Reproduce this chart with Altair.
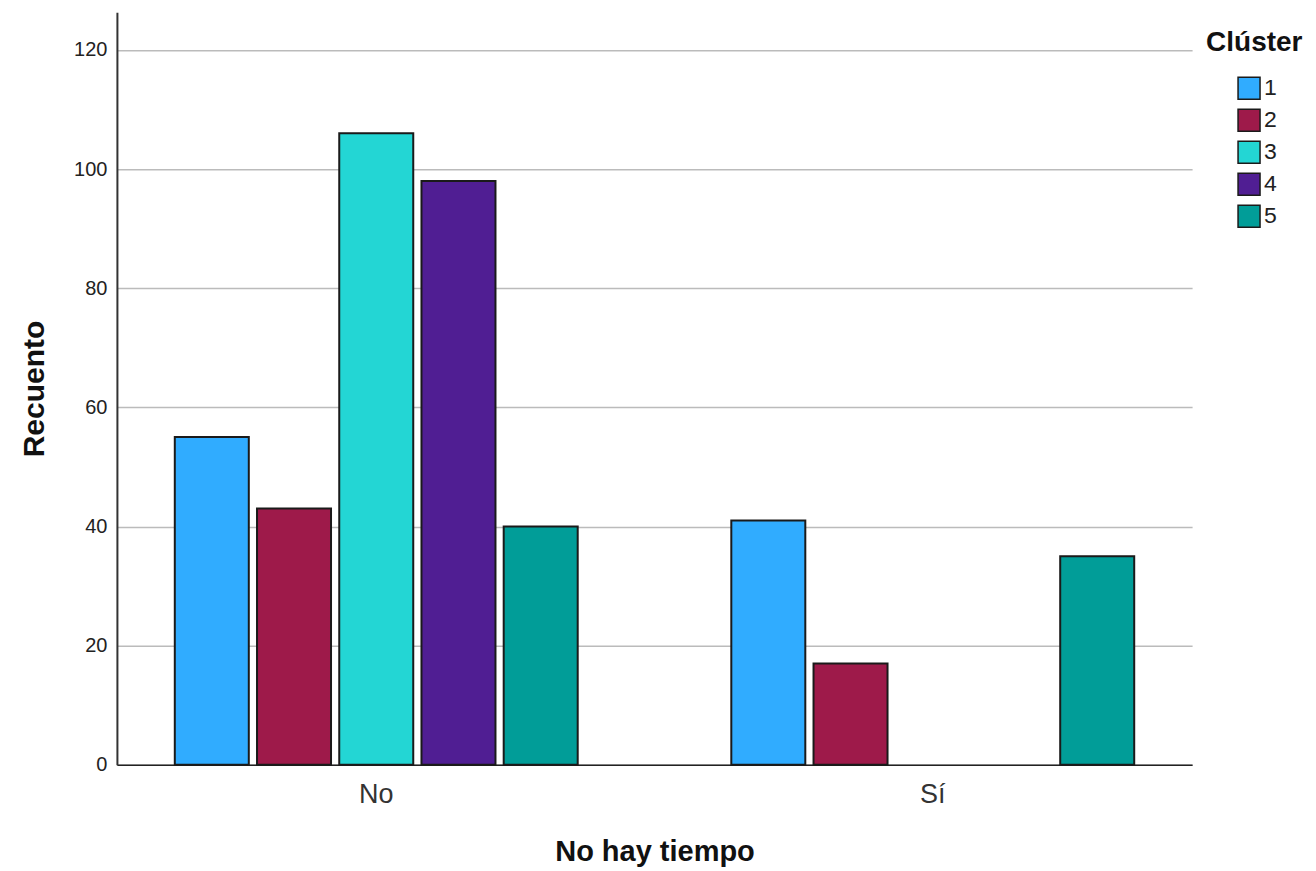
import altair as alt
import pandas as pd

categories = ["No", "Sí"]
clusters = ["1", "2", "3", "4", "5"]
values_no = [55, 43, 106, 98, 40]
values_si = [41, 17, None, None, 35]
colors = ["#30ACFF", "#9E1A4A", "#23D6D4", "#501E93", "#019D98"]

rows = []
for cat, vals in zip(categories, [values_no, values_si]):
    for c, v in zip(clusters, vals):
        if v is not None:
            rows.append({"cat": cat, "cluster": c, "count": v})
df = pd.DataFrame(rows)

FONT = "Liberation Sans"

chart = alt.Chart(df).mark_bar(stroke="#1a1a1a", strokeWidth=2).encode(
    x=alt.X("cat:N", sort=categories,
            scale=alt.Scale(domain=categories, paddingInner=0.276, paddingOuter=0.104),
            axis=alt.Axis(title="No hay tiempo", labelAngle=0, ticks=False,
                          labelFontSize=27, labelColor="#333333", labelPadding=17,
                          titleFontSize=29, titleFontWeight="bold", titleColor="#111111",
                          titlePadding=30, domainColor="#222222", domainWidth=1.5,
                          labelFont=FONT, titleFont=FONT)),
    xOffset=alt.XOffset("cluster:N", scale=alt.Scale(domain=clusters, paddingInner=0.1, paddingOuter=0)),
    y=alt.Y("count:Q", scale=alt.Scale(domain=[0, 126.3], nice=False),
            axis=alt.Axis(title="Recuento", values=[0, 20, 40, 60, 80, 100, 120], ticks=False,
                          labelFontSize=20, labelColor="#222222", labelPadding=10,
                          titleFontSize=30, titleFontWeight="bold", titleColor="#111111",
                          titlePadding=24, gridColor="#BBBBBB", gridWidth=1.5,
                          domainColor="#333333", domainWidth=2,
                          labelFont=FONT, titleFont=FONT)),
    color=alt.Color("cluster:N", scale=alt.Scale(domain=clusters, range=colors),
                    legend=alt.Legend(title="Clúster", orient="none", legendX=1090, legendY=17,
                                      symbolType="square", symbolSize=484, symbolStrokeColor="#1a1a1a",
                                      symbolStrokeWidth=1.5, symbolOffset=31,
                                      labelFontSize=23, labelColor="#222222", labelFont=FONT,
                                      labelOffset=3, rowPadding=4,
                                      titleFontSize=28, titleFont=FONT, titleFontWeight="bold",
                                      titleColor="#111111", titlePadding=19)),
).properties(
    width=1076, height=753,
    autosize=alt.AutoSizeParams(type="none"),
    padding={"left": 109, "top": 4, "right": 116, "bottom": 104},
).configure_view(stroke=None).configure_axisX(grid=False)

chart.save("out.html", embed_options={"renderer": "svg", "actions": False})
